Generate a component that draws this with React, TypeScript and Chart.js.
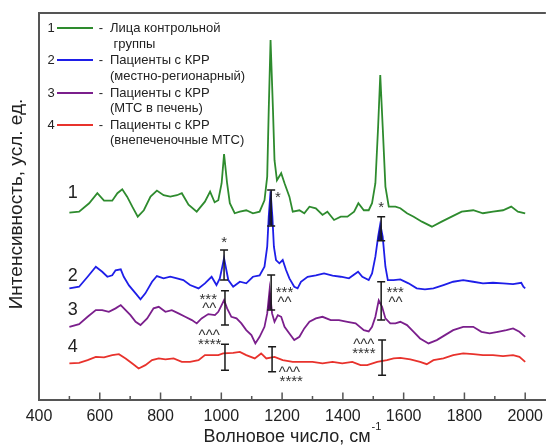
import React, { useEffect, useRef } from 'react';
import { Chart, registerables } from 'chart.js';

Chart.register(...registerables);

// ---- Data (wavenumber, cm^-1 / intensity, arb. units) ----
const controlX = [500, 532, 565, 592, 614, 641, 658, 674, 690, 707, 725, 745, 767, 788, 810, 832, 854, 870, 892, 919, 946, 963, 978, 990, 1001, 1009, 1019, 1028, 1044, 1061, 1082, 1104, 1126, 1142, 1151, 1156, 1162, 1170, 1175, 1183, 1197, 1208, 1224, 1235, 1257, 1273, 1290, 1311, 1333, 1349, 1371, 1393, 1415, 1437, 1451, 1469, 1485, 1496, 1507, 1516, 1523, 1531, 1540, 1551, 1573, 1589, 1611, 1633, 1660, 1693, 1725, 1758, 1791, 1829, 1861, 1894, 1927, 1954, 1976, 2000];
const controlY = [186.6, 187.6, 196, 206, 198.6, 198.6, 206, 210, 202.6, 192.6, 182.6, 189, 202.6, 208.6, 204, 202.6, 204, 206, 194.6, 187.6, 197.6, 207.6, 197, 199, 216, 245, 216, 196, 186, 187.6, 189, 186, 187.6, 199, 222.6, 289, 359, 289, 239, 219, 226, 216, 202.6, 187.6, 189, 186, 192.6, 191, 184.3, 187.6, 179.3, 182.6, 182.6, 187.6, 196, 189, 189, 196, 216, 272.6, 324, 272.6, 212.6, 192.6, 192.6, 191, 186, 182.6, 177.6, 172.6, 177.6, 182.6, 187.6, 189, 186, 187.6, 189, 192.6, 187.6, 186];

const locoregionalX = [500, 532, 560, 587, 608, 625, 641, 652, 669, 679, 696, 718, 734, 750, 772, 788, 810, 832, 854, 875, 897, 925, 946, 968, 984, 995, 1009, 1023, 1039, 1061, 1082, 1104, 1126, 1142, 1151, 1156, 1162, 1168, 1173, 1180, 1191, 1202, 1213, 1224, 1240, 1251, 1262, 1284, 1311, 1338, 1366, 1393, 1420, 1450, 1464, 1485, 1496, 1507, 1516, 1523, 1531, 1540, 1548, 1567, 1589, 1616, 1643, 1670, 1698, 1731, 1763, 1796, 1829, 1861, 1894, 1927, 1960, 1987, 1994, 2000];
const locoregionalY = [111, 112.6, 122.6, 132.6, 127.6, 122.6, 124, 129, 130, 122.6, 114, 106, 100, 106, 117.6, 123.3, 121, 122.6, 121, 119.3, 114.3, 111, 116, 122.6, 114.3, 121, 141, 119.3, 112.6, 117.6, 116, 122.6, 124, 132.6, 152.6, 182.6, 208, 182.6, 152.6, 139.3, 136, 139.3, 129.3, 121, 112.6, 111, 117.6, 122.6, 124, 126, 123.6, 122.6, 121, 127.6, 122.6, 119.3, 126, 142.6, 162.6, 175, 162.6, 132.6, 119.3, 119.3, 120, 116, 111, 110, 111, 114.3, 117.6, 119.3, 117.6, 116, 116.6, 116, 115.3, 116.6, 112.6, 111];

const liverX = [500, 532, 560, 587, 608, 630, 652, 669, 685, 701, 718, 734, 756, 777, 794, 816, 837, 859, 881, 903, 919, 935, 957, 979, 990, 1001, 1009, 1019, 1033, 1050, 1066, 1082, 1099, 1112, 1126, 1142, 1151, 1159, 1167, 1175, 1186, 1197, 1208, 1224, 1240, 1257, 1273, 1290, 1311, 1333, 1360, 1387, 1415, 1442, 1469, 1485, 1496, 1507, 1518, 1529, 1540, 1556, 1573, 1589, 1611, 1633, 1654, 1682, 1709, 1736, 1763, 1796, 1829, 1856, 1883, 1910, 1938, 1960, 1981, 2000];
const liverY = [72.6, 75.3, 82.6, 89.3, 89.3, 87.6, 91, 94.3, 89.3, 84.3, 77.6, 74.3, 81, 91, 92.6, 87.6, 89.3, 86, 82.6, 79.3, 76, 81, 85.3, 84.3, 87.6, 94.3, 99.3, 91, 82.6, 81, 76, 69.3, 64.3, 56, 62.6, 72.6, 86, 110, 86, 77.6, 84.3, 82.6, 72.6, 66, 59.3, 62.6, 71, 77.6, 81, 82.6, 79.3, 79.3, 77.6, 76, 69.3, 68, 72.6, 82.6, 99, 92.6, 81, 76, 76, 77.6, 74.3, 67.6, 61, 56, 59.3, 64.3, 69.3, 72.6, 72.6, 67.6, 66, 67.6, 69.3, 71, 67.6, 62.6];

const extrahepaticX = [500, 532, 560, 587, 614, 641, 663, 685, 707, 728, 750, 772, 794, 816, 843, 870, 897, 925, 946, 968, 990, 1006, 1039, 1061, 1082, 1110, 1131, 1148, 1175, 1202, 1235, 1268, 1300, 1333, 1366, 1398, 1431, 1458, 1480, 1513, 1545, 1567, 1589, 1622, 1654, 1676, 1698, 1731, 1763, 1796, 1829, 1861, 1894, 1927, 1960, 1981, 2000];
const extrahepaticY = [36, 36.6, 39.3, 42.6, 42, 44.3, 45.3, 41, 36, 31, 34.3, 39.3, 41, 40, 41, 37.6, 37.6, 39.3, 44.3, 44.3, 44.3, 46, 46.6, 47.6, 44.3, 41, 46, 41, 42.6, 39.3, 37.6, 37.6, 37.6, 36, 37.6, 36, 37.6, 34.3, 34.3, 37.6, 39.3, 41, 41.6, 40, 37.6, 35.3, 39.3, 41, 44.3, 46, 45.3, 44.3, 44.3, 43.3, 44.3, 42.6, 37.6];

const seriesNumbers = ['1', '2', '3', '4'];
const legendLines = [
  ['Лица контрольной', ' группы'],
  ['Пациенты с КРР', '(местно-регионарный)'],
  ['Пациенты с КРР', '(МТС в печень)'],
  ['Пациенты с КРР', '(внепеченочные МТС)'],
];
const seriesColors = ['#2e8b2e', '#1e1ee8', '#7b1f8c', '#e8322c'];
const xTickValues = [400, 600, 800, 1000, 1200, 1400, 1600, 1800, 2000];
const xMinorTickValues = [500, 700, 900, 1100, 1300, 1500, 1700, 1900];
const xTitle = 'Волновое число, см';
const xTitleSup = '-1';
const yTitle = 'Интенсивность, усл. ед.';

// curve number labels (wavenumber, intensity)
const curveLabelX = [511, 511, 511, 511];
const curveLabelY = [206, 123, 89, 52];

// error bars: wavenumber, low, high
const errorBarX = [1009, 1164, 1526, 1012, 1164, 1526, 1012, 1167, 1529];
const errorBarLo = [119.3, 173.3, 158.6, 74.3, 89.3, 79.3, 29.3, 27.6, 24.3];
const errorBarHi = [149.3, 209.3, 182.6, 108.6, 124.3, 117.6, 55.3, 52.6, 59.3];

// significance markers
const markerText = ['*', '*', '*', '***', '^^', '***', '^^', '***', '^^', '^^^', '****', '^^^', '****', '^^^', '****'];
const markerX = [1009, 1186, 1526, 957, 960, 1208, 1208, 1572, 1573, 960, 962, 1224, 1230, 1469, 1469];
const markerY = [159.3, 204.3, 194.3, 102.6, 93.3, 109.3, 99.3, 109.8, 99.3, 66.3, 57.8, 29.3, 20.3, 57.6, 48.3];

// shaded peak areas: series index, centre, half width, base level
const fillSeries = [1, 1, 1, 2, 2];
const fillCenter = [1009, 1162, 1523, 1159, 1518];
const fillHalfWidth = [12, 12, 12, 10, 10];
const fillBase = [119.3, 174, 159, 90, 80];
const fillColors = ['#12127a', '#12127a', '#12127a', '#4e0c5c', '#4e0c5c'];

const FONT = '"Liberation Sans", Arial, sans-serif';
const TEXT = '#222222';

const decorPlugin = {
  id: 'decor',
  afterDatasetsDraw(chart: any) {
    const { ctx, scales } = chart;
    const x = scales.x;
    const y = scales.y;
    ctx.save();
    // shaded peaks
    fillSeries.forEach((si, k) => {
      const data = chart.data.datasets[si].data as { x: number; y: number }[];
      const lo = fillCenter[k] - fillHalfWidth[k];
      const hi = fillCenter[k] + fillHalfWidth[k];
      const base = fillBase[k];
      const poly: [number, number][] = [];
      for (let i = 0; i < data.length - 1; i++) {
        const p = data[i];
        const q = data[i + 1];
        if (q.x < lo || p.x > hi) continue;
        const pa = p.y >= base;
        const qa = q.y >= base;
        if (pa && p.x >= lo) poly.push([p.x, p.y]);
        if (pa !== qa) {
          const t = (base - p.y) / (q.y - p.y);
          poly.push([p.x + t * (q.x - p.x), base]);
        }
        if (qa && i === data.length - 2) poly.push([q.x, q.y]);
      }
      if (poly.length < 2) return;
      ctx.beginPath();
      ctx.moveTo(x.getPixelForValue(poly[0][0]), y.getPixelForValue(base));
      poly.forEach(([px, py]) => ctx.lineTo(x.getPixelForValue(px), y.getPixelForValue(py)));
      ctx.lineTo(x.getPixelForValue(poly[poly.length - 1][0]), y.getPixelForValue(base));
      ctx.closePath();
      ctx.fillStyle = fillColors[k];
      ctx.fill();
    });
    // error bars
    ctx.strokeStyle = '#1a1a1a';
    ctx.lineWidth = 1.5;
    errorBarX.forEach((bx, k) => {
      const px = x.getPixelForValue(bx);
      const y1 = y.getPixelForValue(errorBarLo[k]);
      const y2 = y.getPixelForValue(errorBarHi[k]);
      ctx.beginPath();
      ctx.moveTo(px, y1);
      ctx.lineTo(px, y2);
      ctx.moveTo(px - 4, y1);
      ctx.lineTo(px + 4, y1);
      ctx.moveTo(px - 4, y2);
      ctx.lineTo(px + 4, y2);
      ctx.stroke();
    });
    // markers
    ctx.fillStyle = '#333333';
    ctx.font = `15px ${FONT}`;
    ctx.textAlign = 'center';
    ctx.textBaseline = 'middle';
    markerText.forEach((t, k) => {
      ctx.fillText(t, x.getPixelForValue(markerX[k]), y.getPixelForValue(markerY[k]) + 3);
    });
    // curve numbers
    ctx.fillStyle = TEXT;
    ctx.font = `18px ${FONT}`;
    seriesNumbers.forEach((n, k) => {
      ctx.fillText(n, x.getPixelForValue(curveLabelX[k]), y.getPixelForValue(curveLabelY[k]));
    });
    ctx.restore();
  },
  afterDraw(chart: any) {
    const { ctx, chartArea: a, scales } = chart;
    const x = scales.x;
    ctx.save();
    // top border
    ctx.strokeStyle = '#555555';
    ctx.lineWidth = 2;
    ctx.beginPath();
    ctx.moveTo(a.left - 1, a.top);
    ctx.lineTo(a.right, a.top);
    ctx.stroke();
    // inward ticks
    ctx.lineWidth = 1.5;
    ctx.beginPath();
    xTickValues.forEach((v) => {
      const px = x.getPixelForValue(v);
      ctx.moveTo(px, a.bottom);
      ctx.lineTo(px, a.bottom - 7);
    });
    xMinorTickValues.forEach((v) => {
      const px = x.getPixelForValue(v);
      ctx.moveTo(px, a.bottom);
      ctx.lineTo(px, a.bottom - 3.5);
    });
    ctx.stroke();
    // legend
    const rowY = [[28, 44], [60, 76], [93, 108], [125, 140]];
    ctx.font = `13px ${FONT}`;
    ctx.textBaseline = 'middle';
    legendLines.forEach((lines, k) => {
      const [y1, y2] = rowY[k];
      ctx.fillStyle = TEXT;
      ctx.textAlign = 'center';
      ctx.fillText(seriesNumbers[k], 51, y1);
      ctx.fillText('-', 101, y1);
      ctx.strokeStyle = seriesColors[k];
      ctx.lineWidth = 1.8;
      ctx.beginPath();
      ctx.moveTo(57, y1);
      ctx.lineTo(93, y1);
      ctx.stroke();
      ctx.textAlign = 'left';
      ctx.fillText(lines[0], 110, y1);
      ctx.fillText(lines[1], 110, y2);
    });
    // x title
    ctx.fillStyle = TEXT;
    ctx.font = `18px ${FONT}`;
    const w1 = ctx.measureText(xTitle).width;
    ctx.font = `11px ${FONT}`;
    const w2 = ctx.measureText(xTitleSup).width;
    const sx = 292 - (w1 + w2) / 2;
    ctx.textAlign = 'left';
    ctx.textBaseline = 'alphabetic';
    ctx.font = `18px ${FONT}`;
    ctx.fillText(xTitle, sx, 442);
    ctx.font = `11px ${FONT}`;
    ctx.fillText(xTitleSup, sx + w1 + 1, 430);
    // y title
    ctx.font = `19px ${FONT}`;
    ctx.translate(17, 204);
    ctx.rotate(-Math.PI / 2);
    ctx.textAlign = 'center';
    ctx.textBaseline = 'middle';
    ctx.fillText(yTitle, 0, 0);
    ctx.restore();
  },
};

export default function App() {
  const ref = useRef<HTMLCanvasElement | null>(null);
  useEffect(() => {
    document.body.style.margin = '0';
    const xs = [controlX, locoregionalX, liverX, extrahepaticX];
    const ys = [controlY, locoregionalY, liverY, extrahepaticY];
    const chart = new Chart(ref.current as HTMLCanvasElement, {
      type: 'line',
      data: {
        datasets: xs.map((xa, i) => ({
          label: legendLines[i].join(' '),
          data: xa.map((v, j) => ({ x: v, y: ys[i][j] })),
          borderColor: seriesColors[i],
          borderWidth: 1.8,
          pointRadius: 0,
          tension: 0,
          fill: false,
        })),
      },
      options: {
        animation: false,
        responsive: false,
        devicePixelRatio: 1,
        layout: { padding: { top: 13, right: 0, left: 0, bottom: 0 } },
        plugins: { legend: { display: false }, tooltip: { enabled: false } },
        scales: {
          x: {
            type: 'linear',
            min: 400,
            max: 2068,
            afterBuildTicks: (s: any) => {
              s.ticks = xTickValues.map((v) => ({ value: v }));
            },
            afterFit: (s: any) => {
              s.height = 48.5;
            },
            grid: { display: false, drawTicks: false },
            border: { display: true, color: '#555555', width: 2 },
            ticks: {
              font: { size: 16, family: FONT },
              color: TEXT,
              padding: 7,
              maxRotation: 0,
              autoSkip: false,
              callback: (v: any) => String(v),
            },
          },
          y: {
            min: 0,
            max: 386,
            ticks: { display: false },
            grid: { display: false, drawTicks: false },
            border: { display: true, color: '#555555', width: 2 },
            afterFit: (s: any) => {
              s.width = 39;
            },
          },
        },
      },
      plugins: [decorPlugin],
    });
    return () => chart.destroy();
  }, []);
  return (
    <div style={{ width: 550, height: 448 }}>
      <canvas ref={ref} width={550} height={448} />
    </div>
  );
}
